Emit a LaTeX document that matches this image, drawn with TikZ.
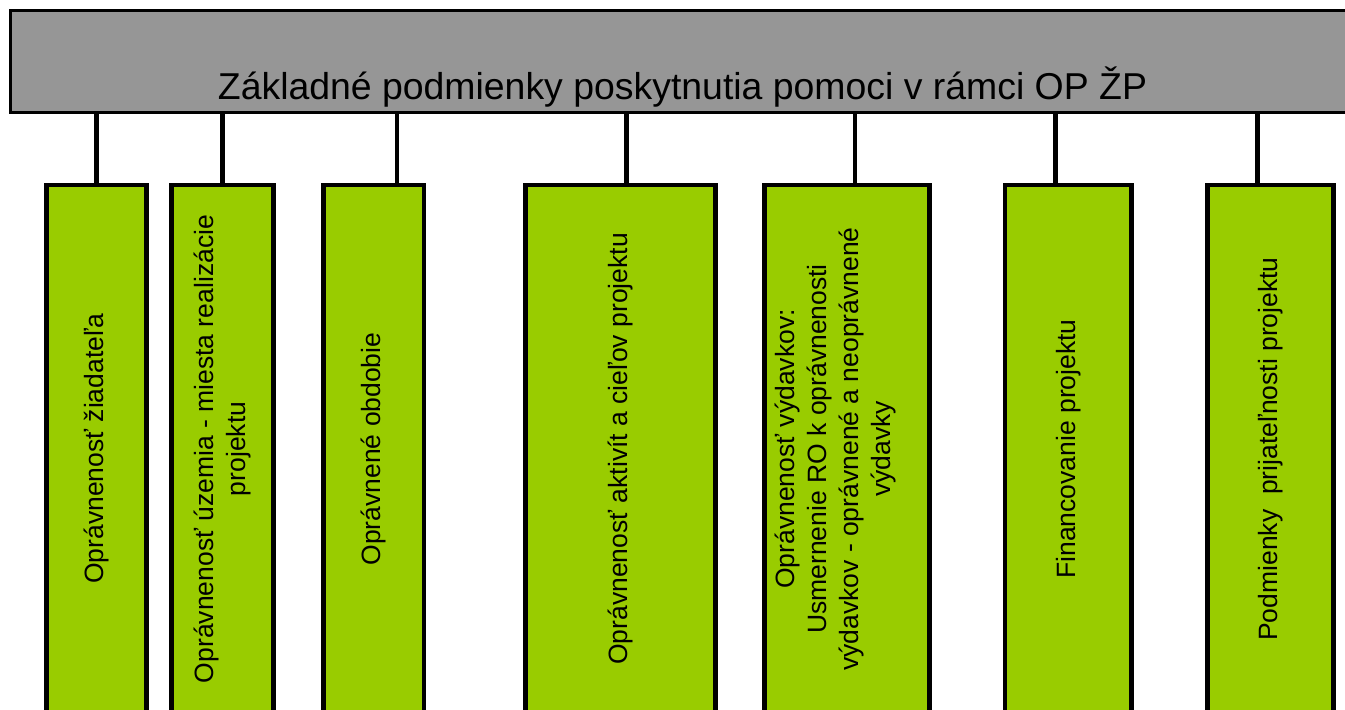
\documentclass[tikz,border=0pt]{standalone}
\usepackage{fontspec}
\setmainfont{Liberation Sans}
\definecolor{headgray}{RGB}{150,150,150}
\definecolor{condgreen}{RGB}{153,204,0}
\tikzset{
	headbox/.style = {draw, line width=3bp, fill=headgray, inner sep=0pt},
	condbox/.style = {draw, line width=4.5bp, fill=condgreen, inner sep=0pt, minimum height=528bp},
	condtext/.style = {rotate=90, align=center, inner sep=0pt, font=\fontsize{26.5bp}{32bp}\selectfont},
	link/.style = {line width=4.5bp}
}

\begin{document}
\begin{tikzpicture}[x=1bp,y=-1bp]
	\useasboundingbox (0,0) rectangle (1345,709);
	\clip (0,0) rectangle (1345,709);
		\node[headbox, minimum width=1354.5bp, minimum height=101.5bp] (title) at (687.75,61.25) {};
		\node[anchor=base, inner sep=0pt, font=\fontsize{37.4bp}{45bp}\selectfont] (titletext) at (682.5,100) {Základné podmienky poskytnutia pomoci v rámci OP ŽP};
		\node[condbox, minimum width=100bp]   (ziadatel)     at (96.5,449)   {};
		\node[condbox, minimum width=102bp]   (uzemie)       at (222.5,449)  {};
		\node[condbox, minimum width=100.5bp] (obdobie)      at (373.75,449) {};
		\node[condbox, minimum width=190bp]   (aktivity)     at (620.5,449)  {};
		\node[condbox, minimum width=165bp]   (vydavky)      at (847,449)    {};
		\node[condbox, minimum width=126.5bp] (financovanie) at (1068.25,449) {};
		\node[condbox, minimum width=126bp]   (podmienky)    at (1270.5,449) {};
	%	texts, rotated
		\node[condtext] (ziadatel-t)     at (ziadatel)     {Oprávnenosť žiadateľa};
		\node[condtext] (uzemie-t)       at (uzemie)       {Oprávnenosť územia - miesta realizácie\\projektu};
		\node[condtext] (obdobie-t)      at (obdobie)      {Oprávnené obdobie};
		\node[condtext] (aktivity-t)     at (aktivity)     {Oprávnenosť aktivít a cieľov projektu};
		\node[condtext] (vydavky-t)      at ([xshift=-12bp]vydavky.center) {Oprávnenosť výdavkov:\\Usmernenie RO k oprávnenosti\\výdavkov - oprávnené a neoprávnené\\výdavky};
		\node[condtext] (financovanie-t) at (financovanie) {Financovanie projektu};
		\node[condtext] (podmienky-t)    at (podmienky)    {Podmienky\ \ prijateľnosti projektu};
	%	connectors
		\draw[link] (ziadatel.north) -- (ziadatel.north |- title.south);
		\draw[link] (uzemie.north) -- (uzemie.north |- title.south);
		\draw[link] ([xshift=23.25bp]obdobie.north) -- ([xshift=23.25bp]obdobie.north |- title.south);
		\draw[link] ([xshift=6bp]aktivity.north) -- ([xshift=6bp]aktivity.north |- title.south);
		\draw[link] ([xshift=8bp]vydavky.north) -- ([xshift=8bp]vydavky.north |- title.south);
		\draw[link] ([xshift=-12.75bp]financovanie.north) -- ([xshift=-12.75bp]financovanie.north |- title.south);
		\draw[link] ([xshift=-13bp]podmienky.north) -- ([xshift=-13bp]podmienky.north |- title.south);
\end{tikzpicture}
\end{document}
